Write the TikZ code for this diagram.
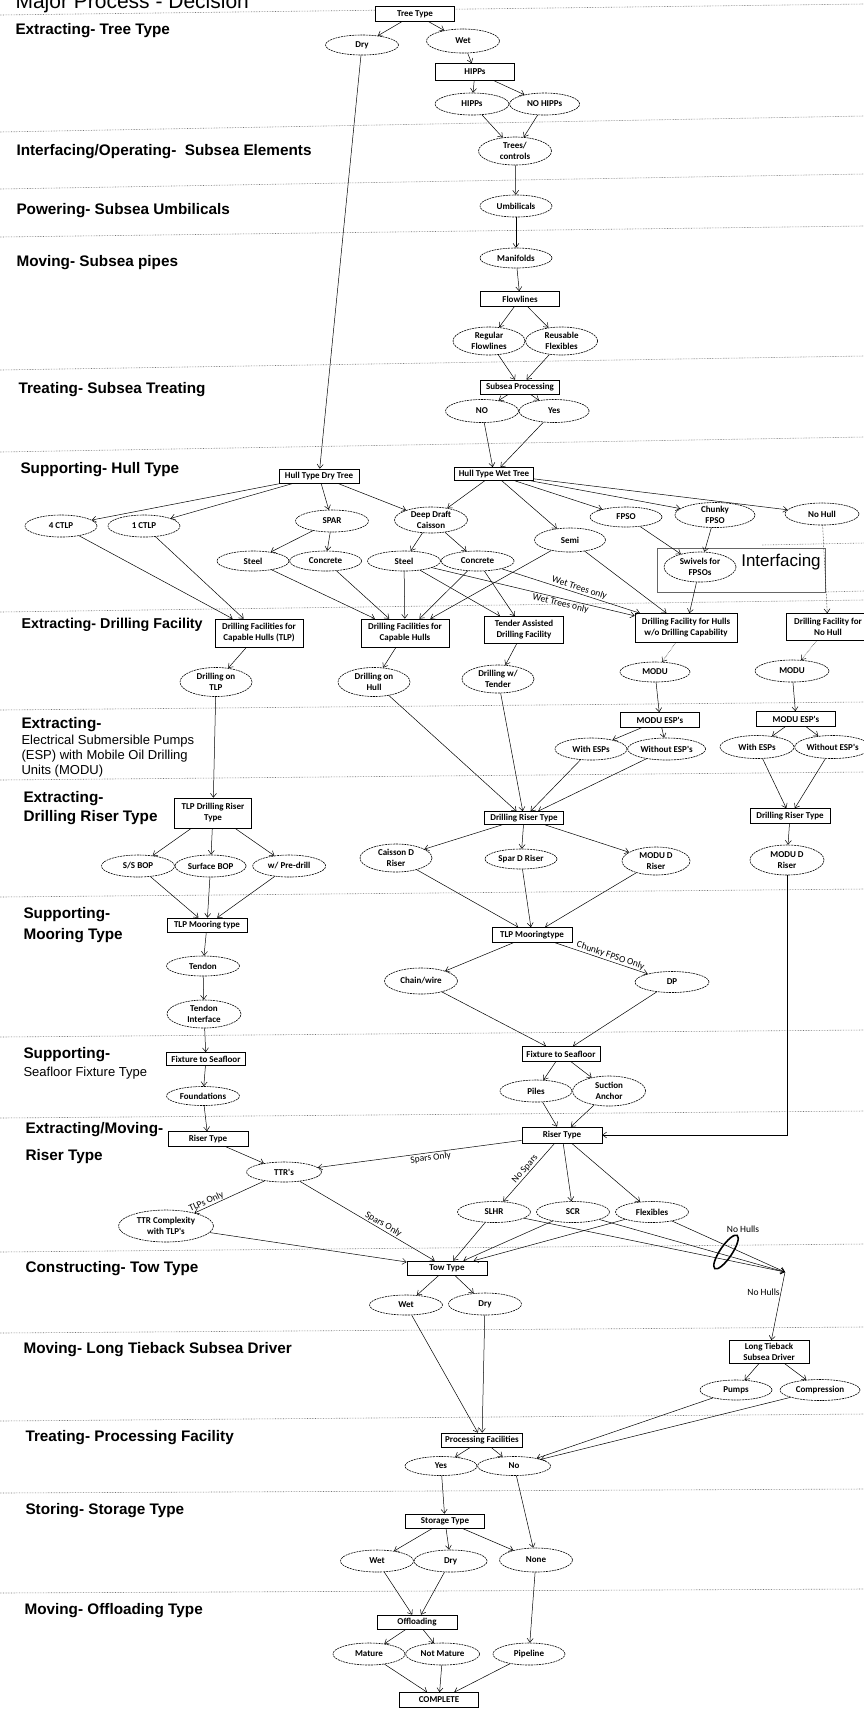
\documentclass[tikz,border=0pt]{standalone}
\usepackage{fontspec}
\setmainfont{Liberation Sans}
\newfontfamily\carlito{Carlito}
\usetikzlibrary{positioning,shapes.geometric,arrows.meta}

\begin{document}
\begin{tikzpicture}[x=1pt, y=-1pt]
  \tikzset{
      decision/.style={rectangle, draw=black, fill=white, line width=0.6pt, inner sep=1pt, minimum width=79pt, minimum height=14pt, align=center, font=\carlito\bfseries\fontsize{9}{11}\selectfont},
      choice/.style={ellipse, draw=black, fill=white, line width=0.6pt, dash pattern=on 2pt off 0.8pt, inner xsep=-2pt, inner ysep=0pt, minimum width=72pt, minimum height=21pt, align=center, font=\carlito\bfseries\fontsize{9}{11}\selectfont},
      myarrow/.style={draw, line width=0.5pt, ->},
      lbl/.style={font=\carlito\fontsize{9.5}{10}\selectfont, inner sep=1pt},
      stage/.style={anchor=base west, font=\bfseries\fontsize{15.3}{17}\selectfont},
      stagesub/.style={anchor=base west, font=\fontsize{13}{15}\selectfont},
      sep/.style={draw=black!55, densely dotted, line width=0.6pt},
      >={Straight Barb[length=4pt, width=6pt]},
  }
  \fill[white] (0,0) rectangle (864,1709);
  \useasboundingbox (0,0) rectangle (864,1709);

  % separators
  \draw[sep] (0,15) -- (864,4);
  \draw[sep] (0,132) -- (864,116);
  \draw[sep] (0,189) -- (864,174);
  \draw[sep] (0,237) -- (864,226);
  \draw[sep] (0,370) -- (864,356);
  \draw[sep] (0,452) -- (864,437);
  \draw[sep] (762,545) -- (864,543);
  \draw[sep] (825,592) -- (864,591);
  \draw[sep] (0,612) -- (864,600);
  \draw[sep] (0,710) -- (864,702);
  \draw[sep] (0,780) -- (864,772);
  \draw[sep] (0,897) -- (864,889);
  \draw[sep] (0,1037) -- (864,1030);
  \draw[sep] (0,1118) -- (864,1111);
  \draw[sep] (0,1252) -- (864,1244);
  \draw[sep] (0,1333) -- (864,1327);
  \draw[sep] (0,1421) -- (864,1414);
  \draw[sep] (0,1493) -- (864,1489);
  \draw[sep] (0,1593) -- (864,1589);

  \node[anchor=base west, font=\fontsize{21}{23}\selectfont] (title) at (12,8) {Major Process - Decision};
  \node[stage] (sTree) at (12,34) {Extracting- Tree Type};
  \node[stage] (sElem) at (13,155) {Interfacing/Operating-~ Subsea Elements};
  \node[stage] (sUmb) at (13,214) {Powering- Subsea Umbilicals};
  \node[stage] (sPipe) at (13,266) {Moving- Subsea pipes};
  \node[stage] (sTreat) at (15,393) {Treating- Subsea Treating};
  \node[stage] (sHull) at (17,473) {Supporting- Hull Type};
  \node[stage, font=\bfseries\fontsize{14.3}{17}\selectfont] (sDrill) at (18,628) {Extracting- Drilling Facility};
  \node[stage] (sEsp) at (18,728) {Extracting-};
  \node[stagesub] (sEspA) at (18,744) {Electrical Submersible Pumps};
  \node[stagesub] (sEspB) at (18,759) {(ESP) with Mobile Oil Drilling};
  \node[stagesub] (sEspC) at (18,774) {Units (MODU)};
  \node[stage] (sDrRis) at (20,802) {Extracting-};
  \node[stage] (sDrRisB) at (20,821) {Drilling Riser Type};
  \node[stage] (sMoor) at (20,918) {Supporting-};
  \node[stage] (sMoorB) at (20,939) {Mooring Type};
  \node[stage] (sFix) at (20,1058) {Supporting-};
  \node[stagesub] (sFixB) at (20,1076) {Seafloor Fixture Type};
  \node[stage] (sRis) at (22,1133) {Extracting/Moving-};
  \node[stage] (sRisB) at (22,1160) {Riser Type};
  \node[stage] (sTow) at (22,1272) {Constructing- Tow Type};
  \node[stage] (sTie) at (20,1353) {Moving- Long Tieback Subsea Driver};
  \node[stage] (sProc) at (22,1441) {Treating- Processing Facility};
  \node[stage] (sStor) at (22,1514) {Storing- Storage Type};
  \node[stage] (sOff) at (21,1614) {Moving- Offloading Type};

  % tree type to subsea processing
  \node[decision, minimum height=15pt] (treetype) at (415,14) {Tree Type};
  \node[choice, minimum width=73pt, minimum height=20pt] (dry) at (362,45) {Dry};
  \node[choice, minimum width=73pt, minimum height=24pt] (wet) at (463,41) {Wet};
  \node[decision, minimum height=17pt] (hippsq) at (475,72) {HIPPs};
  \node[choice, minimum width=74pt, minimum height=22pt] (hipps) at (472,104) {HIPPs};
  \node[choice, minimum width=70pt, minimum height=22pt, right=0pt of hipps] (nohipps) {NO HIPPs};
  \node[choice, minimum width=73pt, minimum height=28pt] (trees) at (515,151) {Trees/\\controls};
  \node[choice, minimum height=22pt] (umbil) at (516,206) {Umbilicals};
  \node[choice, minimum height=20pt] (manif) at (516,258) {Manifolds};
  \node[decision, minimum height=15pt] (flowq) at (520,299) {Flowlines};
  \node[choice, minimum height=28pt] (regflow) at (489,341) {Regular\\Flowlines};
  \node[choice, minimum height=28pt, right=0pt of regflow] (reuflex) {Reusable\\Flexibles};
  \node[decision] (subproc) at (520,387) {Subsea Processing};
  \node[choice, minimum width=73pt, minimum height=23pt] (spno) at (482,411) {NO};
  \node[choice, minimum width=70pt, minimum height=23pt, right=0pt of spno] (spyes) {Yes};

  % hull type
  \node[decision, minimum width=80pt] (hulldry) at (319,476) {Hull Type Dry Tree};
  \node[decision, minimum height=13pt] (hullwet) at (494,474) {Hull Type Wet Tree};
  \node[choice, minimum height=22pt] (ctlp4) at (61,526) {4 CTLP};
  \node[choice, minimum height=22pt] (ctlp1) at (144,526) {1 CTLP};
  \node[choice, minimum width=73pt, minimum height=22pt] (spar) at (332,521) {SPAR};
  \node[choice, minimum width=73pt, minimum height=26pt] (ddc) at (431,520) {Deep Draft\\Caisson};
  \node[choice, minimum height=20pt] (sparsteel) at (253,561) {Steel};
  \node[choice, minimum height=20pt, right=0pt of sparsteel] (sparconc) {Concrete};
  \node[choice, minimum width=73pt, minimum height=20pt] (ddcsteel) at (404,561) {Steel};
  \node[choice, minimum width=73pt, minimum height=20pt, right=0pt of ddcsteel] (ddcconc) {Concrete};
  \node[choice, minimum width=71pt, minimum height=24pt] (semi) at (570,540) {Semi};
  \node[choice, minimum height=20pt] (fpso) at (626,517) {FPSO};
  \node[choice, minimum width=80pt, minimum height=25pt] (chunky) at (715,515) {Chunky\\FPSO};
  \node[choice, minimum width=74pt, minimum height=22pt] (nohull) at (822,514) {No Hull};
  \draw[black!60, line width=0.5pt] (657,548) rectangle (825,592);
  \node[choice, minimum height=30pt] (swivels) at (700,567) {Swivels for\\FPSOs};
  \node[font=\fontsize{17}{19}\selectfont] (interflbl) at (781,562) {Interfacing};

  % drilling facility
  \node[decision, minimum width=88pt, minimum height=28pt] (dftlp) at (259,633) {Drilling Facilities for\\Capable Hulls (TLP)};
  \node[decision, minimum width=88pt, minimum height=28pt] (dfcap) at (405,633) {Drilling Facilities for\\Capable Hulls};
  \node[decision, minimum height=27pt] (dftender) at (524,630) {Tender Assisted\\Drilling Facility};
  \node[decision, minimum width=102pt, minimum height=29pt] (dfwo) at (686,628) {Drilling Facility for Hulls\\w/o Drilling Capability};
  \node[decision, minimum width=84pt, minimum height=27pt] (dfnohull) at (828,627) {Drilling Facility for\\No Hull};
  \node[choice, minimum height=29pt] (drtlp) at (216,682) {Drilling on\\TLP};
  \node[choice, minimum height=29pt] (drhull) at (374,682) {Drilling on\\Hull};
  \node[choice, minimum height=28pt] (drtender) at (498,679) {Drilling w/\\Tender};
  \node[choice, minimum width=70pt, minimum height=20pt] (modu1) at (655,672) {MODU};
  \node[choice, minimum width=74pt, minimum height=22pt] (modu2) at (792,671) {MODU};

  % ESP with MODU
  \node[decision, minimum height=15pt] (modesp1) at (660,720) {MODU ESP's};
  \node[decision, minimum height=15pt] (modesp2) at (796,719) {MODU ESP's};
  \node[choice, minimum height=22pt] (withesp1) at (591,749) {With ESPs};
  \node[choice, minimum width=78pt, minimum height=22pt, right=0pt of withesp1] (woesp1) {Without ESP's};
  \node[choice, minimum width=74pt, minimum height=23pt] (withesp2) at (757,747) {With ESPs};
  \node[choice, minimum width=76pt, minimum height=23pt, right=0pt of withesp2] (woesp2) {Without ESP's};

  % drilling riser
  \node[decision, minimum width=77pt, minimum height=30pt] (drisertlp) at (213,813) {TLP Drilling Riser\\Type};
  \node[decision, minimum height=13pt] (driser1) at (524,818) {Drilling Riser Type};
  \node[decision, minimum width=80pt, minimum height=15pt] (driser2) at (790,816) {Drilling Riser Type};
  \node[choice, minimum width=73pt, minimum height=22pt] (ssbop) at (138,866) {S/S BOP};
  \node[choice, minimum width=71pt, minimum height=22pt, right=0pt of ssbop] (surfbop) {Surface BOP};
  \node[choice, minimum width=73pt, minimum height=22pt, right=6pt of surfbop] (predrill) {w/ Pre-drill};
  \node[choice, minimum height=28pt] (caisson) at (396,858) {Caisson D\\Riser};
  \node[choice, minimum height=20pt] (spard) at (521,859) {Spar D Riser};
  \node[choice, minimum width=68pt, minimum height=28pt] (modud1) at (656,861) {MODU D\\Riser};
  \node[choice, minimum width=74pt, minimum height=30pt] (modud2) at (787,860) {MODU D\\Riser};

  % mooring and seafloor fixture
  \node[decision, minimum width=80pt] (moortlp) at (207,925) {TLP Mooring type};
  \node[decision, minimum width=80pt, minimum height=15pt] (moor) at (532,935) {TLP Mooringtype};
  \node[choice, minimum width=73pt, minimum height=20pt] (tendon) at (203,966) {Tendon};
  \node[choice, minimum width=74pt, minimum height=28pt] (tendint) at (204,1014) {Tendon\\Interface};
  \node[choice, minimum width=73pt, minimum height=26pt] (chain) at (421,981) {Chain/wire};
  \node[choice, minimum width=74pt, minimum height=21pt] (dp) at (672,982) {DP};
  \node[decision, minimum height=13pt] (fixtlp) at (206,1059) {Fixture to Seafloor};
  \node[decision, minimum width=78pt, minimum height=15pt] (fix) at (561,1054) {Fixture to Seafloor};
  \node[choice, minimum width=73pt, minimum height=19pt] (found) at (203,1096) {Foundations};
  \node[choice, minimum height=22pt] (piles) at (536,1091) {Piles};
  \node[choice, minimum width=73pt, minimum height=30pt, right=0pt of piles] (suction) {Suction\\Anchor};

  % riser type
  \node[decision, minimum width=80pt, minimum height=15pt] (risertlp) at (208,1139) {Riser Type};
  \node[decision, minimum width=80pt, minimum height=16pt] (riser) at (562,1135) {Riser Type};
  \node[choice, minimum width=75pt, minimum height=20pt] (ttr) at (284,1172) {TTR's};
  \node[choice, minimum width=95pt, minimum height=32pt] (ttrcx) at (166,1226) {TTR Complexity\\with TLP's};
  \node[choice, minimum width=73pt, minimum height=21pt] (slhr) at (494,1212) {SLHR};
  \node[choice, minimum width=73pt, minimum height=21pt] (scr) at (573,1212) {SCR};
  \node[choice, minimum width=73pt, minimum height=21pt] (flex) at (652,1212) {Flexibles};
  \node[ellipse, draw=black, line width=1.6pt, inner sep=0pt, minimum width=40pt, minimum height=12pt, rotate=56] (nohullsel) at (726,1252) {};
  \node[lbl] (nohullslbl) at (743,1229) {No Hulls};
  \coordinate (nohullpt) at (785,1272);

  % tow, tieback, processing, storage, offloading
  \node[decision, minimum width=80pt] (towq) at (447,1268) {Tow Type};
  \node[choice, minimum width=73pt, minimum height=20pt] (towwet) at (406,1305) {Wet};
  \node[choice, minimum width=73pt, minimum height=22pt] (towdry) at (485,1304) {Dry};
  \node[decision, minimum width=80pt, minimum height=23pt] (longtie) at (769,1352) {Long Tieback\\Subsea Driver};
  \node[choice, minimum height=20pt] (pumps) at (736,1390) {Pumps};
  \node[choice, minimum width=80pt, minimum height=21pt] (compr) at (820,1390) {Compression};
  \node[decision, minimum width=81pt] (procq) at (482,1440) {Processing Facilities};
  \node[choice, minimum height=19pt] (procyes) at (441,1466) {Yes};
  \node[choice, minimum width=73pt, minimum height=19pt, right=0pt of procyes] (procno) {No};
  \node[decision] (storq) at (445,1521) {Storage Type};
  \node[choice, minimum width=73pt, minimum height=22pt] (storwet) at (377,1561) {Wet};
  \node[choice, minimum width=73pt, minimum height=22pt, right=0pt of storwet] (stordry) {Dry};
  \node[choice, minimum width=73pt, minimum height=24pt] (stornone) at (536,1560) {None};
  \node[decision, minimum width=80pt] (offq) at (417,1622) {Offloading};
  \node[choice, minimum height=22pt] (mature) at (369,1654) {Mature};
  \node[choice, minimum width=74pt, minimum height=22pt, right=0pt of mature] (notmature) {Not Mature};
  \node[choice, minimum height=22pt] (pipeline) at (529,1654) {Pipeline};
  \node[decision, minimum height=15pt] (complete) at (439,1700) {COMPLETE};

  \path[myarrow] (treetype) -- (dry);
  \path[myarrow] (treetype) -- (wet);
  \path[myarrow] (wet) -- (hippsq);
  \path[myarrow] (hippsq) -- (hipps);
  \path[myarrow] (hippsq) -- (nohipps);
  \path[myarrow] (hipps) -- (trees);
  \path[myarrow] (nohipps) -- (trees);
  \path[myarrow] (trees) -- (umbil);
  \path[myarrow] (umbil) -- (manif);
  \path[myarrow] (manif) -- (flowq);
  \path[myarrow] (flowq) -- (regflow);
  \path[myarrow] (flowq) -- (reuflex);
  \path[myarrow] (regflow) -- (subproc);
  \path[myarrow] (reuflex) -- (subproc);
  \path[myarrow] (subproc) -- (spno);
  \path[myarrow] (subproc) -- (spyes);
  \path[myarrow] (spno) -- (hullwet);
  \path[myarrow] (spyes) -- (hullwet);
  \path[myarrow] (dry) -- (hulldry);

  \path[myarrow] (hulldry) -- (ctlp4);
  \path[myarrow] (hulldry) -- (ctlp1);
  \path[myarrow] (hulldry) -- (spar);
  \path[myarrow] (hulldry) -- (ddc);
  \path[myarrow] (spar) -- (sparsteel);
  \path[myarrow] (spar) -- (sparconc);
  \path[myarrow] (ddc) -- (ddcsteel);
  \path[myarrow] (ddc) -- (ddcconc);
  \path[myarrow] (hullwet) -- (ddc);
  \path[myarrow] (hullwet) -- (semi);
  \path[myarrow] (hullwet) -- (fpso);
  \path[myarrow] (hullwet) -- (chunky);
  \path[myarrow] (hullwet) -- (nohull);
  \path[myarrow] (fpso) -- (swivels);
  \path[myarrow] (chunky) -- (swivels);

  \path[myarrow] (ctlp4) -- (dftlp);
  \path[myarrow] (ctlp1) -- (dftlp);
  \path[myarrow] (sparsteel) -- (dfcap);
  \path[myarrow] (sparconc) -- (dfcap);
  \path[myarrow] (ddcsteel) -- (dfcap);
  \path[myarrow] (ddcconc) -- (dfcap);
  \path[myarrow] (semi) -- (dfcap);
  \path[myarrow] (ddcsteel) -- (dftender);
  \path[myarrow] (ddcconc) -- (dftender);
  \path[myarrow] (ddcconc) -- node[lbl, sloped, above, pos=0.55] {Wet Trees only} (dfwo);
  \path[myarrow] (ddcsteel) -- node[lbl, sloped, below, pos=0.64] {Wet Trees only} (dfwo);
  \path[myarrow] (semi) -- (dfwo);
  \path[myarrow] (swivels) -- (dfwo);
  \path[myarrow, densely dotted] (nohull) -- (dfnohull);

  \path[myarrow] (dftlp) -- (drtlp);
  \path[myarrow] (dfcap) -- (drhull);
  \path[myarrow] (dftender) -- (drtender);
  \path[myarrow, densely dotted] (dfwo) -- (modu1);
  \path[myarrow, densely dotted] (dfnohull) -- (modu2);
  \path[myarrow] (modu1) -- (modesp1);
  \path[myarrow] (modu2) -- (modesp2);
  \path[myarrow] (modesp1) -- (withesp1);
  \path[myarrow] (modesp1) -- (woesp1);
  \path[myarrow] (modesp2) -- (withesp2);
  \path[myarrow] (modesp2) -- (woesp2);

  \path[myarrow] (drtlp) -- (drisertlp);
  \path[myarrow] (drhull) -- (driser1);
  \path[myarrow] (drtender) -- (driser1);
  \path[myarrow] (withesp1) -- (driser1);
  \path[myarrow] (woesp1) -- (driser1);
  \path[myarrow] (withesp2) -- (driser2);
  \path[myarrow] (woesp2) -- (driser2);
  \path[myarrow] (drisertlp) -- (ssbop);
  \path[myarrow] (drisertlp) -- (surfbop);
  \path[myarrow] (drisertlp) -- (predrill);
  \path[myarrow] (driser1) -- (caisson);
  \path[myarrow] (driser1) -- (spard);
  \path[myarrow] (driser1) -- (modud1);
  \path[myarrow] (driser2) -- (modud2);

  \path[myarrow] (ssbop) -- (moortlp);
  \path[myarrow] (surfbop) -- (moortlp);
  \path[myarrow] (predrill) -- (moortlp);
  \path[myarrow] (caisson) -- (moor);
  \path[myarrow] (spard) -- (moor);
  \path[myarrow] (modud1) -- (moor);
  \path[myarrow] (moortlp) -- (tendon);
  \path[myarrow] (tendon) -- (tendint);
  \path[myarrow] (tendint) -- (fixtlp);
  \path[myarrow] (fixtlp) -- (found);
  \path[myarrow] (found) -- (risertlp);
  \path[myarrow] (moor) -- (chain);
  \path[myarrow] (moor) -- node[lbl, sloped, above, pos=0.58] {Chunky FPSO Only} (dp);
  \path[myarrow] (chain) -- (fix);
  \path[myarrow] (dp) -- (fix);
  \path[myarrow] (fix) -- (piles);
  \path[myarrow] (fix) -- (suction);
  \path[myarrow] (piles) -- (riser);
  \path[myarrow] (suction) -- (riser);
  \path[myarrow] (modud2) |- (riser);

  \path[myarrow] (risertlp) -- (ttr);
  \path[myarrow] (riser) -- node[lbl, sloped, below, pos=0.45] {Spars Only} (ttr);
  \path[myarrow] (ttr) -- node[lbl, sloped, above, pos=0.8] {TLPs Only} (ttrcx);
  \path[myarrow] (riser) -- node[lbl, sloped, above] {No Spars} (slhr);
  \path[myarrow] (riser) -- (scr);
  \path[myarrow] (riser) -- (flex);
  \path[myarrow] (ttr) -- node[lbl, sloped, above, pos=0.6] {Spars Only} (towq);
  \path[myarrow] (ttrcx) -- (towq);
  \path[myarrow] (slhr) -- (towq);
  \path[myarrow] (scr) -- (towq);
  \path[myarrow] (flex) -- (towq);
  \path[myarrow] (slhr) -- (nohullpt);
  \path[myarrow] (scr) -- (nohullpt);
  \path[myarrow] (flex) -- (nohullpt);
  \path[myarrow] (nohullpt) -- node[lbl, left, pos=0.3] {No Hulls} (longtie);
  \path[myarrow] (longtie) -- (pumps);
  \path[myarrow] (longtie) -- (compr);

  \path[myarrow] (towq) -- (towwet);
  \path[myarrow] (towq) -- (towdry);
  \path[myarrow] (towwet) -- (procq);
  \path[myarrow] (towdry) -- (procq);
  \path[myarrow] (pumps) -- (procno);
  \path[myarrow] (compr) -- (procno);
  \path[myarrow] (procq) -- (procyes);
  \path[myarrow] (procq) -- (procno);
  \path[myarrow] (procyes) -- (storq);
  \path[myarrow] (procno) -- (stornone);
  \path[myarrow] (storq) -- (storwet);
  \path[myarrow] (storq) -- (stordry);
  \path[myarrow] (storq) -- (stornone);
  \path[myarrow] (storwet) -- (offq);
  \path[myarrow] (stordry) -- (offq);
  \path[myarrow] (stornone) -- (pipeline);
  \path[myarrow] (offq) -- (mature);
  \path[myarrow] (offq) -- (notmature);
  \path[myarrow] (mature) -- (complete);
  \path[myarrow] (notmature) -- (complete);
  \path[myarrow] (pipeline) -- (complete);
\end{tikzpicture}
\end{document}
